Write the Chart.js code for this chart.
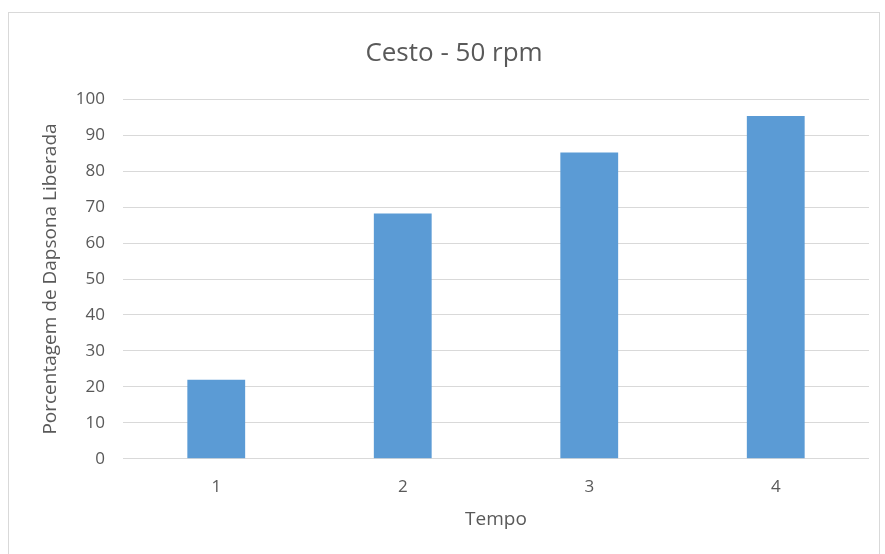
<!DOCTYPE html>
<html>
<head>
<meta charset="utf-8">
<script src="https://cdn.jsdelivr.net/npm/chart.js@4"></script>
<style>
html,body{margin:0;padding:0;background:#fff;}
#wrap{position:absolute;left:0;top:0;width:885px;height:554px;overflow:hidden;}
#frame{position:absolute;left:8px;top:12px;width:872px;height:560px;border:1px solid #d9d9d9;box-sizing:border-box;}
canvas{position:absolute;left:0;top:0;}
</style>
</head>
<body>
<div id="wrap">
<div id="frame"></div>
<canvas id="c" width="885" height="554"></canvas>
</div>
<script>
const categories = ["1", "2", "3", "4"];
const values = [22, 68.2, 85.2, 95.3];
const titleText = "Cesto - 50 rpm";
const xTitle = "Tempo";
const yTitle = "Porcentagem de Dapsona Liberada";

const FONT = "'Open Sans', sans-serif";
const GREY = "#595959";

new Chart(document.getElementById('c'), {
  type: 'bar',
  data: {
    labels: categories,
    datasets: [{
      data: values,
      backgroundColor: '#5b9bd5',
      borderWidth: 0,
      categoryPercentage: 1,
      barPercentage: 0.31
    }]
  },
  options: {
    responsive: false,
    animation: false,
    devicePixelRatio: 1,
    layout: { padding: { left: 39, right: 16, top: 38, bottom: 23 } },
    plugins: {
      legend: { display: false },
      tooltip: { enabled: false },
      title: {
        display: true,
        text: titleText,
        color: GREY,
        font: { family: FONT, size: 26, weight: 'normal' },
        padding: { top: 0, bottom: 30 }
      }
    },
    scales: {
      x: {
        grid: { display: false, drawTicks: false },
        border: { display: false },
        ticks: { color: GREY, font: { family: FONT, size: 17 }, padding: 18 },
        title: { display: true, text: xTitle, color: GREY, font: { family: FONT, size: 19 }, padding: { top: -7, bottom: 0 } }
      },
      y: {
        min: 0, max: 100,
        afterFit: (s) => { s.width = 84; },
        grid: { color: '#d9d9d9', lineWidth: 1, drawTicks: false },
        border: { display: false },
        ticks: { stepSize: 10, color: GREY, font: { family: FONT, size: 17 }, padding: 18 },
        title: { display: true, text: yTitle, color: GREY, font: { family: FONT, size: 19 }, padding: { top: 0, bottom: 0 } }
      }
    }
  }
});
</script>
</body>
</html>
